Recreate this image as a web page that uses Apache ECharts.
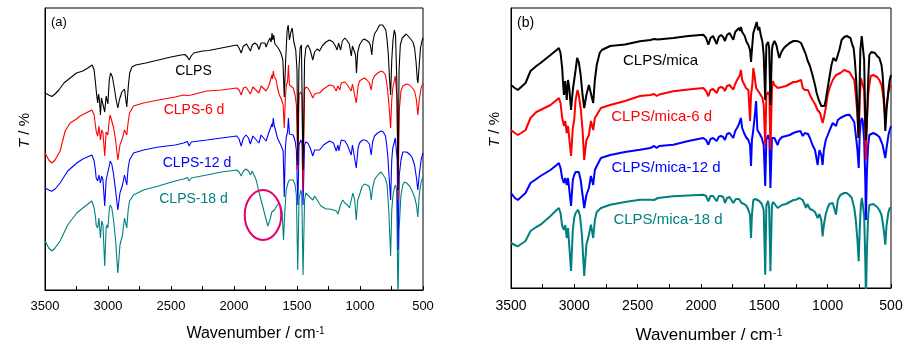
<!DOCTYPE html>
<html>
<head>
<meta charset="utf-8">
<script src="https://cdn.jsdelivr.net/npm/echarts@6/dist/echarts.min.js"></script>
<style>
html,body{margin:0;padding:0;background:#fff;}
#c{width:915px;height:353px;}
</style>
</head>
<body>
<div id="c"></div>
<script>
// x tick labels (wavenumber, cm-1)
const xTickLabels = [3500, 3000, 2500, 2000, 1500, 1000, 500];

// ---------- Panel (a): transmittance (arbitrary offset units) ----------
const CLPS = [[3500,197],[3470,195],[3446,193.5],[3420,196],[3390,200],[3350,207],[3300,212],[3250,217],[3200,219],[3160,222],[3125,225],[3110,220],[3100,208],[3090,195],[3082,187],[3075,196],[3068,190],[3060,175],[3052,192],[3040,194],[3026,178],[3015,194],[3001,186],[2990,210],[2980,217],[2965,213],[2950,202],[2935,190],[2922,182],[2910,190],[2890,198],[2869,201],[2851,183],[2838,205],[2828,217],[2810,223],[2780,225],[2700,227],[2600,230],[2500,233],[2420,235],[2390,235.5],[2370,233],[2356,230],[2340,234],[2320,237],[2250,239],[2200,239.5],[2100,242],[2000,244.5],[1975,245],[1960,242],[1943,237],[1925,244],[1900,246],[1885,244],[1870,239],[1855,245],[1835,247],[1815,245],[1802,240.5],[1785,247],[1770,249],[1755,247],[1745,243],[1730,248],[1715,252],[1705,248],[1698,257],[1692,250],[1685,255],[1675,246],[1665,248],[1655,243],[1640,240],[1625,236],[1612,230],[1601,193],[1590,230],[1578,260],[1570,265],[1560,250],[1548,258],[1538,262],[1525,248],[1510,240],[1500,220],[1493,125],[1485,220],[1475,242],[1465,245],[1452,120],[1440,230],[1430,242],[1414,245],[1395,240],[1375,230],[1360,238],[1340,241],[1321,239],[1300,244],[1270,248],[1242,250],[1215,248],[1195,244],[1182,240],[1170,247],[1154,240],[1140,249],[1120,252],[1100,249],[1085,246],[1069,234],[1060,244],[1045,245],[1035,235],[1028,217],[1018,238],[1004,245],[980,250],[964,251],[950,250],[930,248],[918,245],[906,235],[898,248],[885,256],[865,260],[845,265],[832,267],[820,265],[806,264],[795,260],[785,250],[775,235],[765,210],[757,195],[748,230],[738,250],[728,260],[718,255],[708,210],[698,100],[690,220],[680,245],[665,252],[650,253],[633,256],[620,254],[605,252],[594,252],[580,248],[567,242],[555,228],[545,210],[540,207],[530,225],[520,242],[510,248],[500,252]];

const CLPS_6d = [[3500,137],[3470,130],[3446,127],[3420,130],[3380,139],[3340,159],[3300,167],[3250,171],[3221,174],[3160,178],[3128,180],[3110,175],[3100,165],[3094,159],[3082,154],[3072,164],[3060,150],[3050,160],[3040,157],[3026,134],[3015,158],[3008,159],[3001,155],[2990,170],[2983,175],[2970,173],[2955,162],[2940,150],[2922,130],[2905,145],[2885,152],[2869,160],[2851,155],[2840,168],[2829,177],[2798,184],[2718,187],[2600,190],[2467,193],[2400,195],[2370,194.5],[2356,193],[2340,195],[2216,199],[2100,200],[1978,202],[1960,200],[1943,195],[1925,202],[1905,203],[1870,196],[1850,203],[1835,204],[1802,197],[1785,204],[1770,204],[1745,199],[1725,204],[1710,210],[1700,215],[1695,211],[1688,219],[1682,214],[1675,215],[1665,210],[1655,202],[1640,195],[1625,191],[1610,185],[1601,162],[1593,190],[1585,205],[1575,208],[1568,225],[1560,205],[1545,206],[1530,202],[1515,195],[1505,185],[1493,120],[1484,195],[1470,198],[1460,195],[1452,100],[1440,200],[1430,203],[1414,202],[1395,198],[1375,192],[1360,196],[1340,197],[1321,197],[1290,201],[1242,205],[1210,204],[1189,199],[1175,204],[1160,200],[1149,207],[1120,208],[1100,205],[1070,199],[1060,206],[1045,205],[1030,187],[1015,204],[1004,209],[980,211],[964,212],[945,210],[925,207],[911,200],[900,210],[885,214],[860,217],[832,219],[815,218],[798,215],[788,207],[780,199],[770,185],[757,162],[748,190],[740,202],[733,202],[720,214],[712,215],[705,190],[698,90],[688,180],[675,199],[660,204],[648,205],[630,206],[607,205],[585,202],[567,199],[552,190],[541,175],[530,190],[515,202],[500,207]];

const CLPS_12d = [[3500,102],[3470,100],[3446,98.7],[3420,101],[3380,107],[3320,119],[3248,127],[3200,131],[3128,135],[3110,129],[3100,120],[3094,112],[3082,109],[3072,115],[3060,107],[3050,114],[3040,110],[3026,84],[3015,110],[3008,112],[3001,109],[2990,124],[2983,129],[2970,126],[2955,115],[2940,100],[2922,80],[2905,97],[2885,105],[2869,115],[2851,105],[2840,122],[2829,130],[2798,137],[2718,140],[2600,143],[2467,145],[2400,147],[2370,148.5],[2356,144],[2340,148],[2216,150],[2100,152],[1978,154],[1960,151],[1943,144],[1925,152],[1905,155],[1885,152],[1870,146],[1850,154],[1835,156],[1802,147],[1785,155],[1770,156],[1745,149],[1725,157],[1710,162],[1700,166],[1695,163],[1688,172],[1682,165],[1675,162],[1665,157],[1655,152],[1640,148],[1625,144],[1610,139],[1601,93],[1593,140],[1585,153],[1575,158],[1568,172],[1560,156],[1545,156],[1530,155],[1515,149],[1505,140],[1493,85],[1484,145],[1470,150],[1460,147],[1452,85],[1440,145],[1430,148],[1414,147],[1395,142],[1375,134],[1360,140],[1340,140],[1321,140],[1290,145],[1242,149],[1210,147],[1189,139],[1175,145],[1168,139],[1149,150],[1120,149],[1100,145],[1070,135],[1060,145],[1045,143],[1030,122],[1015,142],[1004,147],[980,150],[964,150],[945,149],[925,146],[911,135],[900,148],[885,154],[860,157],[832,159],[815,158],[798,154],[788,145],[780,135],[770,115],[757,90],[748,130],[740,142],[733,145],[720,152],[712,152],[705,130],[698,40],[688,115],[675,130],[660,138],[648,139],[630,138],[620,137],[600,135],[585,132],[567,125],[552,112],[541,100],[530,115],[515,130],[500,137]];

const CLPS_18d = [[3500,49],[3470,42],[3446,39],[3420,42],[3380,49],[3320,65],[3248,77],[3200,82],[3128,89],[3110,82],[3100,74],[3094,65],[3082,62],[3072,72],[3060,52],[3050,69],[3040,65],[3026,24],[3015,62],[3008,65],[3001,62],[2990,80],[2983,85],[2970,82],[2955,69],[2940,50],[2922,17],[2905,45],[2885,55],[2869,72],[2851,62],[2840,80],[2829,89],[2798,95],[2718,100],[2600,104],[2467,109],[2400,111],[2370,112.5],[2356,109],[2340,112],[2216,115],[2100,118],[1978,120],[1960,118],[1943,114],[1925,119],[1905,121],[1885,119],[1870,115],[1855,119],[1840,118],[1824,110],[1800,97],[1771,83],[1750,73],[1732,64],[1715,70],[1700,78],[1679,80],[1660,84],[1644,87],[1630,84],[1618,78],[1607,50],[1598,75],[1586,100],[1572,107],[1560,110],[1545,112],[1530,110],[1515,105],[1505,95],[1494,20],[1484,90],[1470,100],[1462,95],[1452,15],[1440,90],[1430,97],[1415,95],[1400,93],[1385,95],[1374,90],[1360,94],[1345,91],[1330,88],[1310,84],[1295,82],[1270,81],[1240,81],[1210,80],[1189,79],[1175,76],[1168,75],[1155,85],[1137,90],[1120,87],[1100,85],[1083,82],[1070,82],[1057,97],[1042,90],[1030,70],[1018,90],[1004,95],[985,103],[965,106],[951,107],[930,104],[920,100],[911,90],[900,102],[885,110],[871,113],[852,116],[832,118],[818,116],[800,112],[785,105],[772,80],[757,34],[748,80],[738,95],[728,102],[718,105],[710,100],[698,-10],[690,60],[675,95],[660,105],[647,108],[630,107],[607,104],[590,100],[567,93],[552,85],[541,73],[530,95],[515,108],[500,113]];

// ---------- Panel (b) ----------
const MICA = [[3500,203],[3470,200],[3446,198],[3420,201],[3385,205],[3346,217],[3300,222],[3267,225],[3188,233],[3140,238],[3122,240],[3109,235],[3096,220],[3088,203],[3082,193],[3072,207],[3060,188],[3050,208],[3040,200],[3026,178],[3012,198],[3001,196],[2990,218],[2978,230],[2965,226],[2950,213],[2935,193],[2922,180],[2905,193],[2885,203],[2872,205],[2851,185],[2838,208],[2823,223],[2800,235],[2783,238],[2717,242],[2600,243.5],[2482,246.7],[2400,248],[2370,249],[2356,247],[2340,248.5],[2219,250],[2100,252],[1982,253.3],[1960,250],[1942,243.3],[1925,250],[1905,252],[1890,250],[1876,244],[1860,251],[1842,253],[1825,251],[1811,247],[1795,253],[1775,255],[1760,253],[1745,248.3],[1730,256],[1715,258],[1700,260],[1692,257],[1685,261],[1675,256],[1665,255],[1655,252],[1640,246],[1626,243],[1613,238],[1605,226],[1595,243],[1587,255],[1575,260],[1560,266],[1550,258],[1540,261],[1528,253],[1515,246],[1505,233],[1493,188],[1484,243],[1470,246],[1462,240],[1452,183],[1440,238],[1434,243],[1420,247],[1405,243],[1395,237],[1382,230],[1365,236],[1345,240],[1329,242],[1300,245],[1270,247],[1250,247],[1230,246.5],[1210,245],[1197,243],[1180,236],[1171,233],[1160,228],[1150,230],[1140,222],[1132,223],[1120,213],[1100,203],[1087,195],[1070,188],[1060,185],[1050,182],[1040,183],[1035,180],[1025,182],[1015,188],[1000,200],[987,210],[970,223],[955,230],[945,230],[934,227],[920,233],[908,238],[890,248],[869,251],[850,252],[837,252],[820,250],[805,243],[795,240],[785,227],[775,208],[765,178],[757,150],[750,188],[742,238],[731,252],[723,250],[712,228],[703,165],[698,148],[690,168],[680,208],[671,233],[655,236],[640,236],[626,235],[610,232],[592,230],[575,223],[566,213],[555,188],[545,157],[535,178],[520,198],[510,208],[500,213]];

const MICA_6d = [[3500,158],[3470,155],[3446,153],[3420,155],[3385,158],[3346,170],[3300,176],[3267,178],[3188,183],[3140,188],[3122,190],[3109,185],[3096,170],[3082,162],[3072,167],[3060,155],[3050,162],[3040,160],[3026,132],[3012,160],[3001,168],[2990,188],[2975,198],[2965,193],[2950,180],[2935,158],[2922,128],[2905,148],[2885,153],[2869,167],[2851,158],[2838,170],[2823,173],[2790,180],[2717,183],[2600,187],[2482,192],[2400,193],[2370,194],[2350,192],[2330,193.5],[2219,196.7],[2100,198.5],[1982,200],[1960,197],[1942,191.7],[1925,198],[1905,199],[1890,198],[1876,195],[1860,200],[1842,201],[1825,200],[1811,197],[1795,202],[1775,203],[1760,202],[1745,198.3],[1730,204],[1715,208],[1700,211],[1692,214],[1685,218],[1675,208],[1660,204],[1645,200],[1626,198],[1613,167],[1605,193],[1595,203],[1587,220],[1578,213],[1565,200],[1550,198],[1533,194],[1515,190],[1505,183],[1493,143],[1484,193],[1470,196],[1460,193],[1452,138],[1440,198],[1434,207],[1420,203],[1395,200],[1382,198],[1360,201],[1329,202],[1300,204],[1270,206],[1250,206],[1210,208],[1197,200],[1180,198],[1171,197],[1155,198],[1140,193],[1120,188],[1100,184],[1080,178],[1060,175],[1040,165],[1030,170],[1015,180],[1000,193],[985,200],[960,208],[934,213],[920,213],[900,215],[869,218],[850,217],[829,216],[810,212],[790,208],[778,193],[765,173],[755,150],[747,188],[738,210],[723,208],[712,198],[703,158],[698,128],[690,168],[680,193],[671,203],[660,212],[640,213],[626,213],[610,211],[592,208],[575,203],[566,196],[555,183],[545,170],[535,183],[520,196],[510,200],[500,203]];

const MICA_12d = [[3500,95],[3470,90],[3446,88],[3420,91],[3385,95],[3346,105],[3300,109],[3267,112],[3188,118],[3140,123],[3122,125],[3109,120],[3096,110],[3082,105],[3072,110],[3060,103],[3050,110],[3040,108],[3026,82],[3012,108],[3001,113],[2990,116],[2975,118],[2965,116],[2950,108],[2935,93],[2922,80],[2905,93],[2885,100],[2869,112],[2851,103],[2838,118],[2823,122],[2790,130],[2717,133],[2600,136],[2482,138.3],[2400,140],[2370,142],[2350,140],[2330,142],[2219,143.3],[2100,147],[1982,150],[1960,148],[1942,143.3],[1925,149],[1905,150],[1890,149],[1876,147],[1860,151],[1842,152],[1825,151],[1811,148],[1795,154],[1775,155],[1760,154],[1745,150],[1730,157],[1715,160],[1700,164],[1692,162],[1685,170],[1675,160],[1660,155],[1645,151],[1626,148],[1613,143],[1605,122],[1598,148],[1587,158],[1575,173],[1565,187],[1555,158],[1540,155],[1520,150],[1505,143],[1493,102],[1484,148],[1470,153],[1460,148],[1452,100],[1440,150],[1420,150],[1395,143],[1382,148],[1360,151],[1329,152],[1300,153],[1270,155],[1250,156],[1215,157],[1197,152],[1180,155],[1171,153],[1155,154],[1140,150],[1120,143],[1100,138],[1079,123],[1065,138],[1050,133],[1040,123],[1030,138],[1015,148],[987,157],[960,165],[945,163],[934,162],[920,168],[900,170],[869,172],[850,173],[829,173.3],[810,170],[790,166],[778,153],[765,138],[755,120],[747,153],[738,167],[730,170],[723,167],[712,148],[703,108],[698,68],[690,118],[680,143],[671,153],[660,153.3],[640,155],[626,154],[610,153],[592,151],[575,146],[566,143],[555,136],[545,130],[535,140],[520,153],[510,158],[500,162]];

const MICA_18d = [[3500,45],[3470,43],[3446,41.7],[3420,44],[3385,47],[3346,57],[3300,61],[3267,63.3],[3188,72],[3140,78],[3122,80],[3109,75],[3096,62],[3082,58.3],[3072,63],[3060,50],[3050,60],[3040,58],[3026,17],[3012,58],[3001,70],[2990,75],[2970,78.3],[2955,72],[2940,53],[2922,12],[2905,43],[2885,53],[2869,63.3],[2851,50],[2838,68],[2823,76],[2790,80],[2717,83.3],[2600,86],[2482,88.3],[2400,88.3],[2370,88],[2355,86.7],[2340,90],[2219,91.7],[2100,92.5],[1982,93.3],[1960,92],[1942,86.7],[1925,92],[1905,92],[1890,91],[1876,86.7],[1860,92],[1842,92],[1825,91],[1811,85],[1795,90],[1775,91],[1760,90],[1745,85],[1725,89],[1700,89],[1680,85],[1660,84],[1640,82],[1626,78],[1613,73],[1605,50],[1598,73],[1587,88],[1570,89],[1560,88.3],[1540,87],[1520,84],[1505,78],[1493,13.3],[1484,83],[1470,87],[1462,80],[1452,16.7],[1440,83],[1430,86],[1420,87],[1395,80],[1382,82],[1360,83],[1329,84],[1300,86],[1270,88],[1250,88.3],[1223,90],[1197,88],[1180,83],[1171,80],[1160,84],[1150,83],[1140,79],[1120,78],[1100,76],[1079,70],[1065,74],[1050,68],[1040,51.7],[1030,63],[1015,74],[1000,80],[987,84],[960,85],[945,83],[934,73.3],[920,88],[900,93],[869,95],[850,95],[829,93],[810,90],[790,80],[778,68],[765,48],[755,26.7],[747,58],[738,83],[730,90],[723,88],[712,73],[703,28],[698,-12],[690,38],[680,73],[671,83],[660,85],[640,84],[626,82],[610,81],[592,78],[575,73],[566,66],[555,56],[545,43.3],[535,63],[520,76],[510,80],[500,80]];

const seriesNamesA = ['CLPS', 'CLPS-6 d', 'CLPS-12 d', 'CLPS-18 d'];
const seriesNamesB = ['CLPS/mica', 'CLPS/mica-6 d', 'CLPS/mica-12 d', 'CLPS/mica-18 d'];
const colors = ['#000000', '#ff0000', '#0000ff', '#008080'];

const FONT = '"Liberation Sans", Arial, sans-serif';
const chart = echarts.init(document.getElementById('c'), null, {renderer: 'canvas'});

function xAxisCfg(gridIndex, labelSize, nameSize, padLeft, margin, gap) {
  return {
    gridIndex, type: 'value', min: 500, max: 3500, interval: 250, inverse: true,
    axisLine: {show: true, lineStyle: {color: '#000', width: 1}},
    axisTick: {show: true, inside: true, length: 4, lineStyle: {color: '#000'}},
    axisLabel: {
      margin: margin, color: '#000', fontFamily: FONT, fontSize: labelSize,
      formatter: v => (xTickLabels.indexOf(v) >= 0 ? String(v) : '')
    },
    splitLine: {show: false},
    name: 'Wavenumber / cm{s|-1}', nameLocation: 'middle', nameGap: gap,
    nameTextStyle: {
      color: '#000', fontFamily: FONT, fontSize: nameSize, padding: [0, 0, 0, padLeft],
      rich: {s: {fontSize: Math.round(nameSize * 0.62), fontFamily: FONT, color: '#000', verticalAlign: 'top', padding: [0, 0, 6, 0]}}
    }
  };
}
function yAxisCfg(gridIndex, max, gap) {
  return {
    gridIndex, type: 'value', min: 0, max: max,
    axisLine: {show: true, lineStyle: {color: '#000', width: 1}},
    axisTick: {show: false}, axisLabel: {show: false}, splitLine: {show: false},
    name: '{i|T} / %', nameLocation: 'middle', nameRotate: 90, nameGap: gap,
    nameTextStyle: {
      color: '#000', fontFamily: FONT, fontSize: 15, padding: [0, 0, 0, 37],
      rich: {i: {fontStyle: 'italic', fontFamily: FONT, fontSize: 15, color: '#000'}}
    }
  };
}

const dataA = [CLPS, CLPS_6d, CLPS_12d, CLPS_18d];
const dataB = [MICA, MICA_6d, MICA_12d, MICA_18d];
const series = [];
dataA.forEach((d, i) => series.push({
  name: seriesNamesA[i], type: 'line', xAxisIndex: 0, yAxisIndex: 0, data: d,
  showSymbol: false, symbol: 'none', clip: true, animation: false,
  lineStyle: {color: colors[i], width: 1.1}, itemStyle: {color: colors[i]}, z: 10 - i
}));
dataB.forEach((d, i) => series.push({
  name: seriesNamesB[i], type: 'line', xAxisIndex: 1, yAxisIndex: 1, data: d,
  showSymbol: false, symbol: 'none', clip: true, animation: false,
  lineStyle: {color: colors[i], width: 2}, itemStyle: {color: colors[i]}, z: 10 - i
}));

function label(text, x, y, color, size) {
  return {type: 'text', x: x, y: y, z: 100,
    style: {text: text, fill: color, font: size + 'px ' + FONT, align: 'center', verticalAlign: 'middle'}};
}

chart.setOption({
  animation: false,
  backgroundColor: '#fff',
  grid: [
    {left: 45, top: 8, width: 378, height: 282, show: true, borderColor: '#000', borderWidth: 1, backgroundColor: 'transparent'},
    {left: 511, top: 8, width: 380, height: 280, show: true, borderColor: '#000', borderWidth: 1, backgroundColor: 'transparent'}
  ],
  xAxis: [xAxisCfg(0, 13, 16, 43, 10, 36), xAxisCfg(1, 14, 17, 16, 11, 39)],
  yAxis: [yAxisCfg(0, 282, 13), yAxisCfg(1, 280, 9)],
  series: series,
  graphic: [
    {type: 'text', x: 51, y: 22, z: 100, style: {text: '(a)', fill: '#000', font: '13px ' + FONT, align: 'left', verticalAlign: 'middle'}},
    {type: 'text', x: 517, y: 23, z: 100, style: {text: '(b)', fill: '#000', font: '14px ' + FONT, align: 'left', verticalAlign: 'middle'}},
    label(seriesNamesA[0], 193.5, 71, colors[0], 14),
    label(seriesNamesA[1], 194, 110, colors[1], 14),
    label(seriesNamesA[2], 197, 162.7, colors[2], 14),
    label(seriesNamesA[3], 193.5, 199.3, colors[3], 14),
    label(seriesNamesB[0], 660.5, 60.7, colors[0], 15),
    label(seriesNamesB[1], 661.7, 116.7, colors[1], 15),
    label(seriesNamesB[2], 666, 168.3, colors[2], 15),
    label(seriesNamesB[3], 668, 220, colors[3], 15)
  ]
});

// highlight ellipse around the 1730 cm-1 carbonyl band of CLPS-18 d
const ctr = chart.convertToPixel({gridIndex: 0}, [1770, 75]);
const edge = chart.convertToPixel({gridIndex: 0}, [1625, 100]);
const rx = Math.abs(edge[0] - ctr[0]);
const ry = Math.abs(edge[1] - ctr[1]);
chart.setOption({
  graphic: [{
    type: 'ellipse', id: 'ring', z: 120,
    shape: {cx: ctr[0], cy: ctr[1], rx: rx, ry: ry},
    style: {fill: 'none', stroke: '#e6006e', lineWidth: 2}
  }]
});
</script>
</body>
</html>
